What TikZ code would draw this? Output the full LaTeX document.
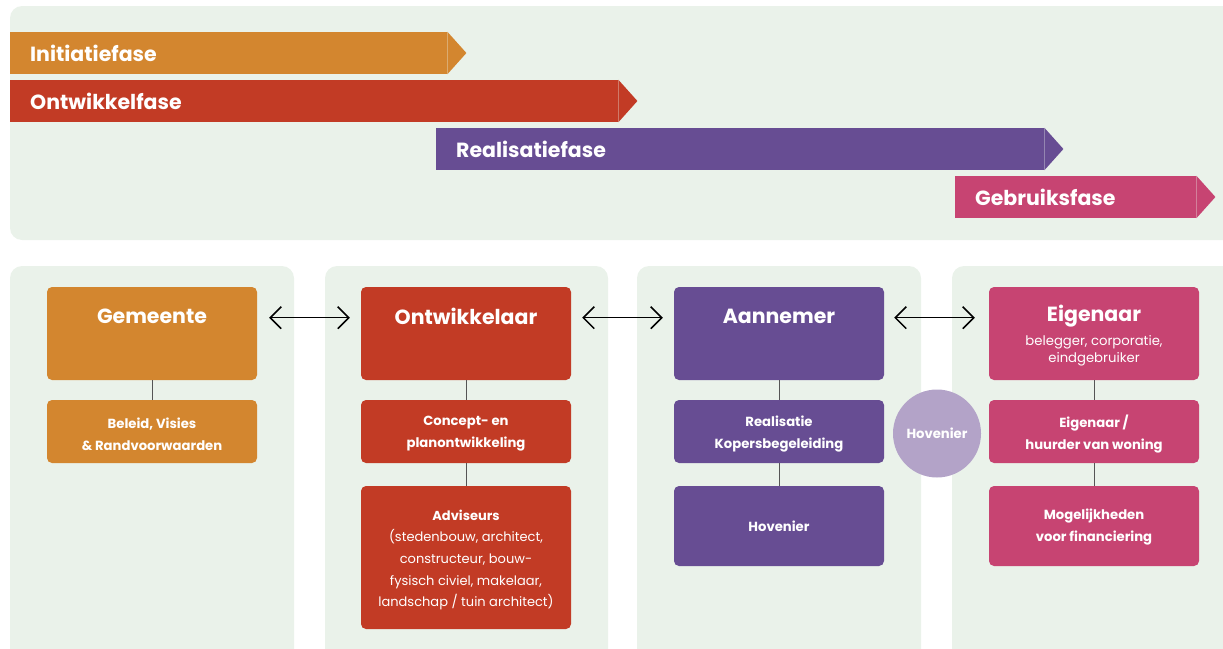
\documentclass[tikz,border=0pt]{standalone}
\usepackage{fontspec}
\setmainfont{Poppins}
\usetikzlibrary{arrows.meta}
\definecolor{cOr}{HTML}{D3862F}
\definecolor{cRe}{HTML}{C23B25}
\definecolor{cPu}{HTML}{674D93}
\definecolor{cPi}{HTML}{C74472}
\definecolor{cLp}{HTML}{B3A3C8}
\definecolor{cBg}{HTML}{EAF2EA}
\definecolor{cLn}{HTML}{555555}
\tikzset{
  panel/.style={fill=cBg, rounded corners=12pt},
  bar/.style={anchor=west, minimum height=42pt, text=white, inner xsep=20pt, inner ysep=0pt,
    font=\fontsize{20.5}{24}\selectfont\bfseries, text depth=0pt, align=left},
  bigbox/.style={minimum width=210pt, minimum height=93pt, rounded corners=5pt, inner sep=0pt},
  subbox/.style={minimum width=210pt, rounded corners=5pt, inner sep=0pt, text=white, align=center,
    font=\fontsize{13.2}{22}\selectfont\bfseries},
  ttl/.style={text=white, inner sep=0pt, font=\fontsize{20.5}{24}\selectfont\bfseries},
  sbt/.style={text=white, inner sep=0pt, align=center, font=\fontsize{13.2}{17}\selectfont},
  conn/.style={draw=cLn, line width=1pt},
  tipb/.tip={Straight Barb[length=11pt,width=22pt,line width=1.5pt]},
  dbl/.style={tipb-tipb, line width=1.5pt, black}
}
\begin{document}
\begin{tikzpicture}[x=1pt,y=-1pt]
\useasboundingbox (0,0) rectangle (1223,648);
\clip (0,0) rectangle (1223,648);
% top panel
\fill[panel] (10,6) rectangle (1250,240);
% phase bars
\node[bar, fill=cOr, minimum width=437pt, text width=397pt] (b1) at (10,53) {Initiatiefase};
\fill[cOr] (b1.north east) -- ([xshift=19pt]b1.east) -- (b1.south east) -- cycle;
\node[bar, fill=cRe, minimum width=608pt, text width=568pt] (b2) at (10,101) {Ontwikkelfase};
\fill[cRe] (b2.north east) -- ([xshift=19pt]b2.east) -- (b2.south east) -- cycle;
\node[bar, fill=cPu, minimum width=608pt, text width=568pt] (b3) at (436,149) {Realisatiefase};
\fill[cPu] (b3.north east) -- ([xshift=19pt]b3.east) -- (b3.south east) -- cycle;
\node[bar, fill=cPi, minimum width=241pt, text width=201pt] (b4) at (955,197) {Gebruiksfase};
\fill[cPi] (b4.north east) -- ([xshift=19pt]b4.east) -- (b4.south east) -- cycle;
% column panels
\fill[panel] (10,266) rectangle (294,670);
\fill[panel] (325,266) rectangle (608,670);
\fill[panel] (637,266) rectangle (921,670);
\fill[panel] (952,266) rectangle (1250,670);
% column 1
\node[bigbox, fill=cOr] (gem) at (152,333.5) {};
\node[ttl] (gemT) at ([yshift=-29.5pt]gem.north) {Gemeente};
\node[subbox, fill=cOr, minimum height=63pt] (gem1) at (152,431.5) {};
\node[subbox] (gem1t) at ([yshift=-2.5pt]gem1.center) {Beleid, Visies\\\& Randvoorwaarden};
% column 2
\node[bigbox, fill=cRe] (ont) at (466,333.5) {};
\node[ttl] (ontT) at ([yshift=-29.5pt]ont.north) {Ontwikkelaar};
\node[subbox, fill=cRe, minimum height=63pt] (ont1) at (466,431.5) {};
\node[subbox] (ont1t) at ([yshift=-2.5pt]ont1.center) {Concept- en\\planontwikkeling};
\node[subbox, fill=cRe, minimum height=143pt] (ont2) at (466,557.5) {};
\node[subbox, font=\fontsize{13}{21.6}\selectfont] (ont2t) at ([yshift=-2.5pt]ont2.center)
  {\textbf{Adviseurs}\\(stedenbouw, architect,\\constructeur, bouw-\\fysisch civiel, makelaar,\\landschap / tuin architect)};
% column 3
\node[bigbox, fill=cPu] (aan) at (779,333.5) {};
\node[ttl] (aanT) at ([yshift=-29.5pt]aan.north) {Aannemer};
\node[subbox, fill=cPu, minimum height=63pt] (aan1) at (779,431.5) {};
\node[subbox] (aan1t) at ([yshift=-2.5pt]aan1.center) {Realisatie\\Kopersbegeleiding};
\node[subbox, fill=cPu, minimum height=80pt] (aan2) at (779,526) {Hovenier};
% column 4
\node[bigbox, fill=cPi] (eig) at (1094,333.5) {};
\node[ttl] (eigT) at ([yshift=-29.5pt]eig.north) {Eigenaar};
\node[sbt] (eigS) at ([yshift=-64pt]eig.north) {belegger, corporatie,\\eindgebruiker};
\node[subbox, fill=cPi, minimum height=63pt] (eig1) at (1094,431.5) {};
\node[subbox] (eig1t) at ([yshift=-2.5pt]eig1.center) {Eigenaar /\\huurder van woning};
\node[subbox, fill=cPi, minimum height=80pt] (eig2) at (1094,526) {};
\node[subbox] (eig2t) at ([yshift=-1.5pt]eig2.center) {Mogelijkheden\\voor financiering};
% circle
\node[circle, fill=cLp, minimum size=88pt, inner sep=0pt, text=white, font=\fontsize{13.2}{14}\selectfont\bfseries] (hov) at (937,433.5) {Hovenier};
% connectors
\draw[conn] (gem) -- (gem1);
\draw[conn] (ont) -- (ont1);
\draw[conn] (ont1) -- (ont2);
\draw[conn] (aan) -- (aan1);
\draw[conn] (aan1) -- (aan2);
\draw[conn] (eig) -- (eig1);
\draw[conn] (eig1) -- (eig2);
% arrows
\draw[dbl] ([xshift=12pt,yshift=15.8pt]gem.east) -- ([xshift=-11pt,yshift=15.8pt]ont.west);
\draw[dbl] ([xshift=11pt,yshift=15.8pt]ont.east) -- ([xshift=-11pt,yshift=15.8pt]aan.west);
\draw[dbl] ([xshift=10pt,yshift=15.8pt]aan.east) -- ([xshift=-14pt,yshift=15.8pt]eig.west);
\end{tikzpicture}
\end{document}
